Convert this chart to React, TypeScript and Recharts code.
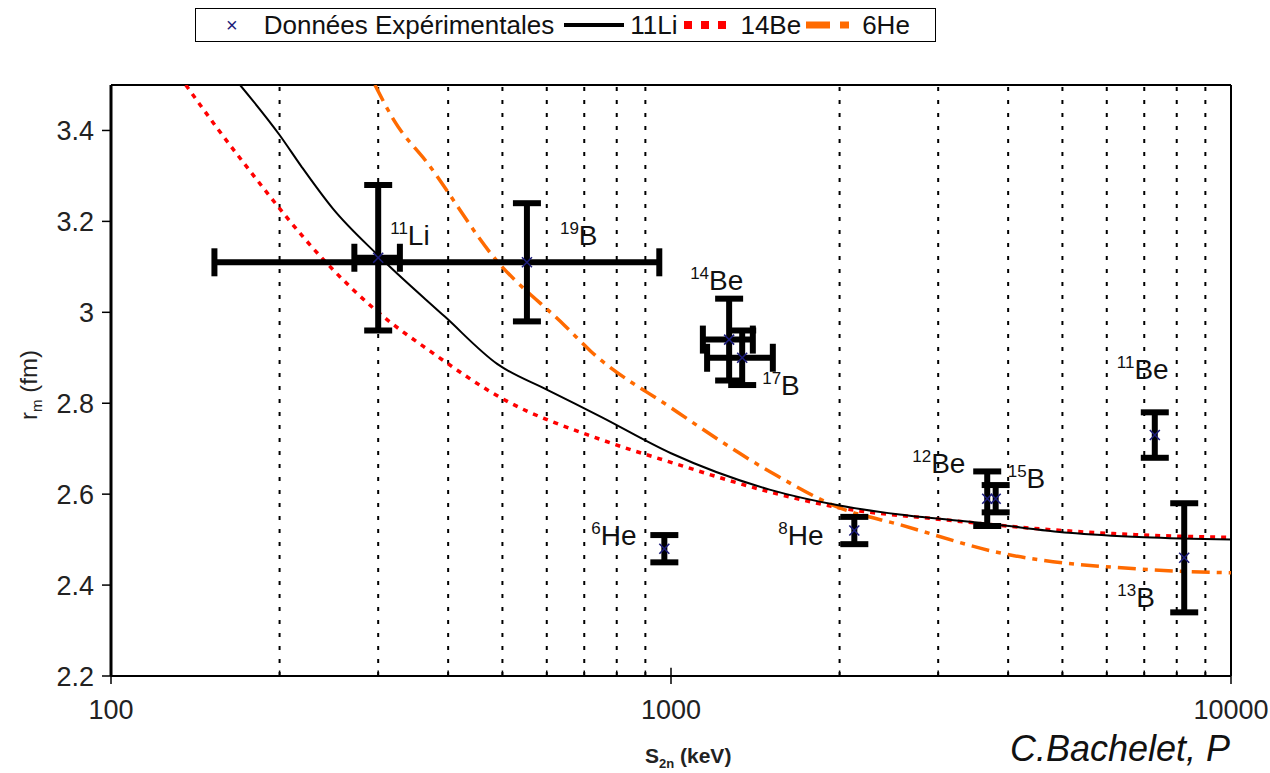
import React from "react";
import {
  ComposedChart,
  Line,
  Scatter,
  ErrorBar,
  XAxis,
  YAxis,
  ReferenceLine,
  LabelList,
} from "recharts";

// Experimental matter radii vs two-neutron separation energy
const expNames = ["11Li", "19B", "14Be", "17B", "6He", "8He", "12Be", "15B", "11Be", "13B"];
const expS2n = [300, 553, 1270, 1340, 973, 2125, 3670, 3800, 7310, 8250];
const expS2nErr = [28, 400, 130, 180, 0, 0, 0, 0, 0, 0];
const expRm = [3.12, 3.11, 2.94, 2.9, 2.48, 2.52, 2.59, 2.59, 2.73, 2.46];
const expRmErr = [0.16, 0.13, 0.09, 0.06, 0.03, 0.03, 0.06, 0.03, 0.05, 0.12];

// Model curves
const li11S = [170, 200, 219, 249, 300, 395, 490, 600, 750, 1000, 1500, 2000, 2560, 3700, 5130, 7000, 10000];
const li11R = [3.5, 3.39, 3.32, 3.228, 3.125, 2.99, 2.886, 2.83, 2.77, 2.69, 2.61, 2.575, 2.555, 2.535, 2.515, 2.505, 2.5];

const be14S = [136, 155, 173, 242, 300, 373, 500, 750, 1000, 1500, 2000, 3000, 5000, 7000, 10000];
const be14R = [3.5, 3.404, 3.327, 3.11, 3.0, 2.913, 2.81, 2.72, 2.67, 2.605, 2.57, 2.545, 2.52, 2.51, 2.505];

const he6S = [296, 321, 368, 485, 647, 718, 1000, 1500, 2000, 2560, 3860, 7150, 10000];
const he6R = [3.5, 3.42, 3.327, 3.118, 2.97, 2.915, 2.79, 2.65, 2.57, 2.533, 2.471, 2.434, 2.427];

const xTicks = [100, 1000, 10000];
const xMinor = [200, 300, 400, 500, 600, 700, 800, 900, 2000, 3000, 4000, 5000, 6000, 7000, 8000, 9000];
const yTicks = [2.2, 2.4, 2.6, 2.8, 3.0, 3.2, 3.4];

// label placement around each point (px from the marker)
const labelOffsets: Record<string, [number, number]> = {
  "11Li": [12, -13],
  "19B": [33, -17],
  "14Be": [-39, -50],
  "17B": [20, 37],
  "6He": [-73, -4],
  "8He": [-76, 14],
  "12Be": [-75, -26],
  "15B": [12, -11],
  "11Be": [-38, -56],
  "13B": [-67, 49],
};

const points = expNames.map((name, i) => ({
  name,
  s: expS2n[i],
  r: expRm[i],
  ex: expS2nErr[i],
  ey: expRmErr[i],
}));
const toSeries = (xs: number[], ys: number[]) => xs.map((s, i) => ({ s, r: ys[i] }));
const li11 = toSeries(li11S, li11R);
const be14 = toSeries(be14S, be14R);
const he6 = toSeries(he6S, he6R);

const FONT = "'Liberation Sans', Arial, sans-serif";

const Cross = (props: any) => {
  const { cx, cy } = props;
  if (cx == null || cy == null) return null;
  const d = 5;
  return (
    <g stroke="#1c1c7a" strokeWidth={1.6}>
      <line x1={cx - d} y1={cy - d} x2={cx + d} y2={cy + d} />
      <line x1={cx - d} y1={cy + d} x2={cx + d} y2={cy - d} />
    </g>
  );
};

const NuclideLabel = (props: any) => {
  const { x, y, width, height, value } = props;
  const off = labelOffsets[value] || [0, 0];
  const m = /^(\d+)(.*)$/.exec(value) || ["", "", value];
  const cx = x + (width || 0) / 2;
  const cy = y + (height || 0) / 2;
  return (
    <text x={cx + off[0]} y={cy + off[1]} fontFamily={FONT} fontSize={28} fill="#111">
      <tspan fontSize={17} dy={-11}>{m[1]}</tspan>
      <tspan dy={11}>{m[2]}</tspan>
    </text>
  );
};

const LegendBox = () => (
  <div
    style={{
      position: "absolute",
      left: 195,
      top: 8,
      width: 741,
      height: 34,
      border: "1.5px solid #000",
      boxSizing: "border-box",
      fontFamily: FONT,
      fontSize: 26,
      color: "#111",
      display: "flex",
      alignItems: "center",
      whiteSpace: "nowrap",
    }}
  >
    <span style={{ color: "#1c1c7a", fontSize: 20, marginLeft: 30, marginRight: 26 }}>×</span>
    <span>Données Expérimentales</span>
    <svg width={64} height={10} style={{ margin: "0 4px 0 8px" }}>
      <line x1={2} y1={5} x2={62} y2={5} stroke="#000" strokeWidth={4} />
    </svg>
    <span>11Li</span>
    <svg width={50} height={10} style={{ margin: "0 8px 0 5px" }}>
      <line x1={2} y1={5} x2={48} y2={5} stroke="#ff0000" strokeWidth={8} strokeDasharray="8 9" />
    </svg>
    <span>14Be</span>
    <svg width={52} height={10} style={{ margin: "0 6px 0 3px" }}>
      <line x1={2} y1={5} x2={50} y2={5} stroke="#ff6a00" strokeWidth={7} strokeDasharray="24 10 9 10" />
    </svg>
    <span>6He</span>
  </div>
);

export default function App() {
  return (
    <div
      style={{
        position: "absolute",
        left: 0,
        top: 0,
        width: 1270,
        height: 773,
        background: "#fff",
        overflow: "hidden",
      }}
    >
      <ComposedChart
        width={1270}
        height={773}
        margin={{ top: 85, right: 39, bottom: 37, left: 0 }}
      >
        <XAxis
          dataKey="s"
          type="number"
          scale="log"
          domain={[100, 10000]}
          ticks={xTicks}
          allowDataOverflow
          height={60}
          tickSize={8}
          tickMargin={16}
          axisLine={{ stroke: "#000", strokeWidth: 2 }}
          tickLine={{ stroke: "#000", strokeWidth: 1.5 }}
          tick={{ fontSize: 27, fill: "#222", fontFamily: FONT }}
        />
        <YAxis
          type="number"
          domain={[2.2, 3.5]}
          ticks={yTicks}
          allowDataOverflow
          width={111}
          tickSize={9}
          tickMargin={8}
          axisLine={{ stroke: "#000", strokeWidth: 3 }}
          tickLine={{ stroke: "#000", strokeWidth: 1.5 }}
          tick={{ fontSize: 27, fill: "#222", fontFamily: FONT }}
          tickFormatter={(v: number) => String(+v.toFixed(1))}
        />

        {xMinor.map((v) => (
          <ReferenceLine key={`g${v}`} x={v} stroke="#000" strokeWidth={2} strokeDasharray="4 9" />
        ))}
        {xMinor.map((v) => (
          <ReferenceLine
            key={`t${v}`}
            segment={[{ x: v, y: 2.2 }, { x: v, y: 2.212 }]}
            stroke="#000"
            strokeWidth={1.5}
          />
        ))}
        <ReferenceLine segment={[{ x: 1000, y: 2.2 }, { x: 1000, y: 2.218 }]} stroke="#000" strokeWidth={1.5} />
        <ReferenceLine y={3.5} stroke="#000" strokeWidth={2} />
        <ReferenceLine x={10000} stroke="#000" strokeWidth={2} />

        <Line
          data={be14}
          dataKey="r"
          type="monotone"
          stroke="#ff0000"
          strokeWidth={3.5}
          strokeDasharray="5 6"
          dot={false}
          isAnimationActive={false}
        />
        <Line
          data={he6}
          dataKey="r"
          type="monotone"
          stroke="#ff6a00"
          strokeWidth={3.5}
          strokeDasharray="18 7 5 7"
          dot={false}
          isAnimationActive={false}
        />
        <Line
          data={li11}
          dataKey="r"
          type="monotone"
          stroke="#000"
          strokeWidth={2}
          dot={false}
          isAnimationActive={false}
        />

        <Scatter data={points} dataKey="r" shape={<Cross />} isAnimationActive={false}>
          <ErrorBar dataKey="ex" direction="x" width={14} strokeWidth={6} stroke="#000" />
          <ErrorBar dataKey="ey" direction="y" width={14} strokeWidth={6} stroke="#000" />
          <LabelList dataKey="name" content={<NuclideLabel />} />
        </Scatter>
      </ComposedChart>

      <LegendBox />

      <div
        style={{
          position: "absolute",
          left: 645,
          top: 744,
          fontFamily: FONT,
          fontWeight: "bold",
          fontSize: 21,
          color: "#222",
          whiteSpace: "nowrap",
        }}
      >
        S<sub style={{ fontSize: 13 }}>2n</sub> (keV)
      </div>
      <div
        style={{
          position: "absolute",
          left: 30,
          top: 385,
          transform: "translate(-50%, -50%) rotate(-90deg)",
          fontFamily: FONT,
          fontSize: 24,
          color: "#222",
          whiteSpace: "nowrap",
        }}
      >
        r<sub style={{ fontSize: 15 }}>m</sub> (fm)
      </div>
      <div
        style={{
          position: "absolute",
          left: 1010,
          top: 729,
          fontFamily: FONT,
          fontStyle: "italic",
          fontSize: 36,
          lineHeight: "40px",
          color: "#111",
          whiteSpace: "nowrap",
        }}
      >
        C.Bachelet, P
      </div>
    </div>
  );
}
